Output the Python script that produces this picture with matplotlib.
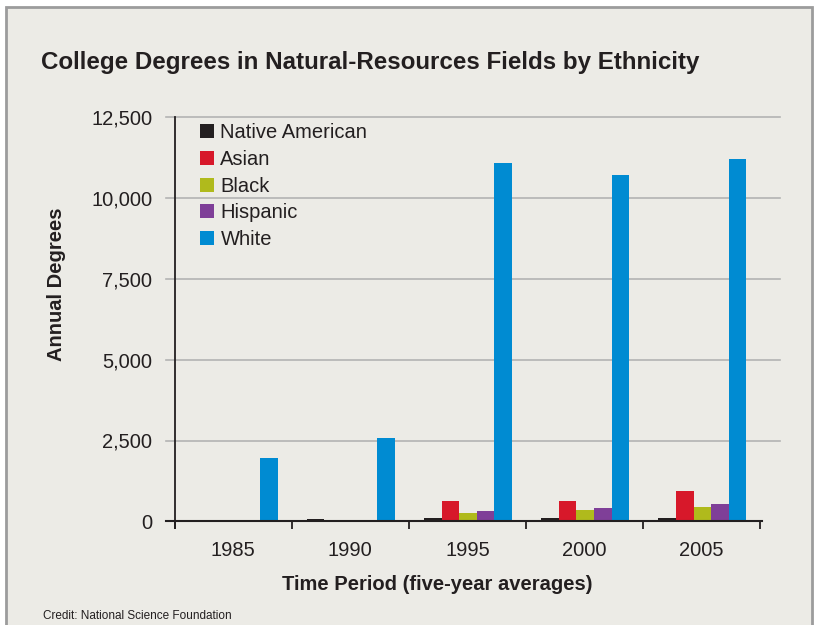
import matplotlib
matplotlib.use("Agg")
import matplotlib.pyplot as plt
from matplotlib.patches import Rectangle
import numpy as np

plt.rcParams['font.family'] = ['Liberation Sans', 'DejaVu Sans']

periods = ["1985", "1990", "1995", "2000", "2005"]
groups = ["Native American", "Asian", "Black", "Hispanic", "White"]
native_american = [0, 70, 100, 100, 100]
asian = [0, 0, 630, 630, 940]
black = [0, 0, 260, 350, 445]
hispanic = [0, 0, 320, 410, 540]
white = [1950, 2575, 11100, 10700, 11200]
yticks = [0, 2500, 5000, 7500, 10000, 12500]
ytick_labels = ["0", "2,500", "5,000", "7,500", "10,000", "12,500"]

series = [native_american, asian, black, hispanic, white]
colors = ["#231f20", "#d7182a", "#b0ba1c", "#7f3f98", "#008bd2"]

W, H = 825, 625
fig = plt.figure(figsize=(W / 100, H / 100), dpi=100, facecolor="white")

# panel background with border
fig.patches.append(Rectangle((6 / W, -0.05), (812 - 6) / W, (H - 7) / H + 0.05,
                             transform=fig.transFigure, facecolor="#ecebe6",
                             edgecolor="#9c9c9c", linewidth=2, zorder=-10))

ax_l, ax_r = 174.5, 760.3
ax_t, ax_b = 117.3, 521.3
ax = fig.add_axes([ax_l / W, 1 - ax_b / H, (ax_r - ax_l) / W, (ax_b - ax_t) / H])
ax.set_facecolor("none")
for s in ax.spines.values():
    s.set_visible(False)

x = np.arange(len(periods))
bw = 0.15
for i, (vals, c, g) in enumerate(zip(series, colors, groups)):
    ax.bar(x + (i - 2) * bw + 0.005, vals, width=bw, color=c, label=g, zorder=3, linewidth=0)

ax.set_xlim(-0.5, len(periods) - 0.5)
ax.set_ylim(0, 12500)

axw = ax_r - ax_l
# gridlines extending beyond axes
for yv in yticks[1:]:
    ax.axhline(yv, xmin=-8.5 / axw, xmax=1 + 19.7 / axw, color="#b3b3b3",
               linewidth=1.2, clip_on=False, zorder=1)
# baseline
ax.axhline(0, xmin=-8.5 / axw, xmax=1 + 1.5 / axw, color="#231f20",
           linewidth=1.5, clip_on=False, zorder=4)
# y axis line (extends below baseline)
ax.plot([-0.5, -0.5], [-6.5 / 0.03236, 12500], color="#231f20", linewidth=1.3,
        clip_on=False, zorder=4)

# x category boundary ticks
ax.set_xticks(np.arange(-0.5, len(periods) + 0.5, 1.0))
ax.set_xticklabels([])
ax.tick_params(axis="x", length=6, width=1.3, color="#231f20", direction="out")
ax.set_xticks(x, minor=True)
ax.set_xticklabels(periods, minor=True, fontsize=14.5, color="#231f20")
ax.tick_params(axis="x", which="minor", length=0, pad=14)

ax.set_yticks(yticks)
ax.set_yticklabels(ytick_labels, fontsize=14.5, color="#231f20")
ax.tick_params(axis="y", length=0, pad=16)

leg = ax.legend(loc="upper left", bbox_to_anchor=(0.044, 0.985), frameon=False,
                fontsize=14.5, handlelength=0.7, handleheight=0.7,
                handletextpad=0.3, labelspacing=0.38, borderaxespad=0.0,
                borderpad=0.0)
for t in leg.get_texts():
    t.set_color("#231f20")

fig.text(41 / W, 1 - 63 / H, "College Degrees in Natural-Resources Fields by Ethnicity",
         fontsize=17.4, fontweight="bold", color="#231f20", va="center", ha="left")
fig.text(437 / W, 1 - 585 / H, "Time Period (five-year averages)",
         fontsize=14.5, fontweight="bold", color="#231f20", va="center", ha="center")
fig.text(56 / W, 1 - 284 / H, "Annual Degrees", rotation=90,
         fontsize=14.5, fontweight="bold", color="#231f20", va="center", ha="center")
fig.text(43 / W, 1 - 616 / H, "Credit: National Science Foundation",
         fontsize=8.5, color="#231f20", va="center", ha="left")

fig.savefig("out.png", dpi=100, facecolor="white")
